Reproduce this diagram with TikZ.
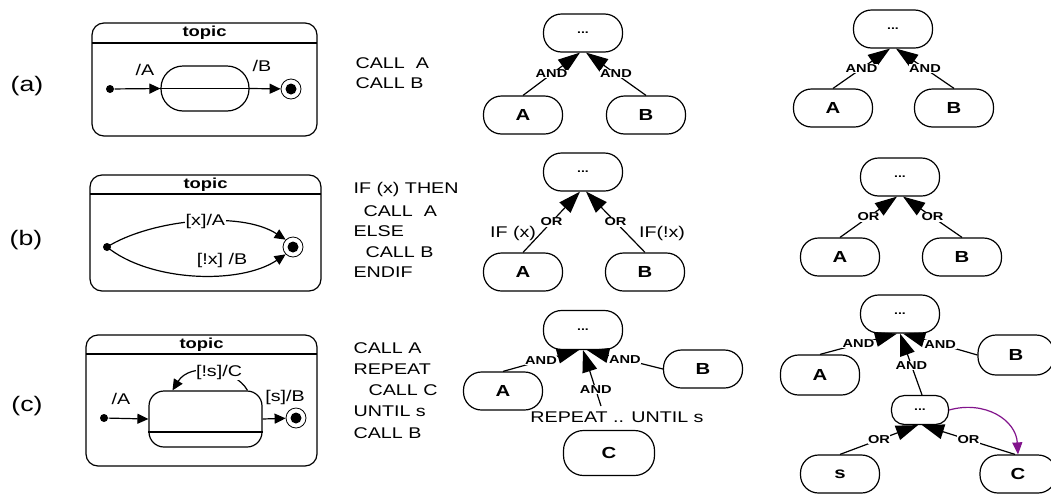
\documentclass[tikz,border=0pt]{standalone}
\usepackage{fontspec}
\setmainfont[FakeStretch=1.27]{Liberation Sans}
\usetikzlibrary{arrows.meta}
\definecolor{arcpurple}{RGB}{130,20,140}
\newcommand\fsReg{\fontsize{15.5}{18}\selectfont}
\newcommand\fsBig{\fontsize{21}{25}\selectfont}
\newcommand\fsTopic{\fontsize{14.5}{17}\selectfont\bfseries}
\newcommand\fsLab{\fontsize{11.5}{13}\selectfont\bfseries}
\newcommand\fsNode{\fontsize{16}{18}\selectfont\bfseries}
\newcommand\fsDots{\fontsize{11}{12}\selectfont\bfseries}
\begin{document}
\begin{tikzpicture}[x=1pt,y=-1pt, line width=1.2pt,
  every node/.style={inner sep=1pt},
  tnode/.style={draw, rectangle, rounded corners=18pt, minimum width=79pt, minimum height=38pt, inner sep=0pt, font=\fsNode},
  dnode/.style={tnode, font=\fsDots},
  elab/.style={fill=white, inner sep=0.5pt, font=\fsLab},
  tarrow/.style={-{Triangle[length=22pt,width=15pt]}},
  sarrow/.style={-{Triangle[length=11pt,width=10pt]}},
  parrow/.style={draw=arcpurple, -{Triangle[length=12pt,width=10pt]}, line width=1.2pt},
  idot/.style={circle, fill, inner sep=0pt, minimum size=8pt},
  fstate/.style={circle, draw, line width=0.8pt, inner sep=0pt, minimum size=20pt},
  topicbox/.style={draw, rounded corners=12pt, inner sep=0pt},
  code/.style={anchor=base west, font=\fsReg, inner sep=0pt},
  txt/.style={font=\fsReg},
  tlab/.style={fill=white, inner sep=0.5pt, font=\fsReg}]
\useasboundingbox (0,0) rectangle (1051,493);
\fill[white] (0,0) rectangle (1051,493);

% row labels
\node[font=\fsBig] (la) at (27,86) {(a)};
\node[font=\fsBig] (lb) at (26,240) {(b)};
\node[font=\fsBig] (lc) at (27,406) {(c)};

% ---------- (a) statechart ----------
\node[topicbox, minimum width=225pt, minimum height=113pt] (boxa) at (204.5,79.5) {};
\node[font=\fsTopic] (topa) at (204.5,33) {topic};
\draw (92,43) -- (317,43);
\node[draw, rounded corners=22pt, minimum width=88pt, minimum height=45pt] (sa) at (205,88.5) {};
\draw (sa.west) -- (sa.east);
\node[idot] (ia) at (110,89) {};
\node[fstate] (fa) at (291,89) {};
\fill (fa.center) circle (5.5);
\draw[sarrow] (ia) -- (sa.west);
\draw[sarrow] (sa.east) -- (fa);
\node[txt] (laA) at (145,70) {/A};
\node[txt] (laB) at (262,66) {/B};

% ---------- (b) statechart ----------
\node[topicbox, minimum width=231pt, minimum height=116pt] (boxb) at (205.5,233) {};
\node[font=\fsTopic] (topb) at (205.5,184.5) {topic};
\draw (90,194) -- (321,194);
\node[idot] (ib) at (107,247) {};
\node[fstate] (fb) at (293,247) {};
\fill (fb.center) circle (5.5);
\draw[sarrow] (ib.center) .. controls (150,220) and (240,210) .. (fb.north west)
  node[tlab, pos=0.55] (lbA) {[x]/A};
\draw[sarrow] (ib.center) .. controls (150,282) and (240,285) .. (fb.south west);
\node[txt] (lbB) at (222,260) {[!x] /B};

% ---------- (c) statechart ----------
\node[topicbox, minimum width=231pt, minimum height=131pt] (boxc) at (201.5,400.5) {};
\node[font=\fsTopic] (topc) at (201.5,344.5) {topic};
\draw (86,354) -- (317,354);
\node[draw, rounded corners=15pt, minimum width=113pt, minimum height=56pt] (sc) at (205.5,419) {};
\draw (sc.west |- 0,432) -- (sc.east |- 0,432);
\node[idot] (ic) at (104,418) {};
\node[fstate] (fc) at (296,418) {};
\fill (fc.center) circle (5.5);
\draw[sarrow] (ic) -- (sc.west);
\draw[sarrow] (sc.east) -- (fc);
\node[txt] (lcA) at (121,399) {/A};
\node[txt] (lcB) at (285,397) {[s]/B};
\draw[sarrow] ([xshift=42pt]sc.north) .. controls (235,368) and (190,362) .. ([xshift=-33pt]sc.north)
  node[tlab, pos=0.42] (lcC) {[!s]/C};

% ---------- code ----------
\node[code] (ca1) at (355,68) {CALL\ \ A};
\node[code] (ca2) at (355,88) {CALL B};
\node[code] (cb1) at (353,193) {IF (x) THEN};
\node[code] (cb2) at (363,216) {CALL\ \ A};
\node[code] (cb3) at (353,236) {ELSE};
\node[code] (cb4) at (365,257) {CALL B};
\node[code] (cb5) at (353,277) {ENDIF};
\node[code] (cc1) at (353,353) {CALL A};
\node[code] (cc2) at (353,374) {REPEAT};
\node[code] (cc3) at (368,395) {CALL C};
\node[code] (cc4) at (353,416) {UNTIL s};
\node[code] (cc5) at (353,438) {CALL B};

% ---------- trees (a) ----------
\node[dnode] (t1) at (583,33) {...};
\node[tnode] (a1) at (523,115) {A};
\node[tnode] (b1) at (646,115) {B};
\draw[tarrow] (a1.north) -- node[elab] {AND} ([xshift=-3pt]t1.south);
\draw[tarrow] (b1.north) -- node[elab] {AND} ([xshift=3pt]t1.south);

\node[dnode] (t2) at (893,29) {...};
\node[tnode] (a2) at (833,108) {A};
\node[tnode] (b2) at (954,108) {B};
\draw[tarrow] (a2.north) -- node[elab] {AND} ([xshift=-3pt]t2.south);
\draw[tarrow] (b2.north) -- node[elab] {AND} ([xshift=3pt]t2.south);

% ---------- trees (b) ----------
\node[dnode] (t3) at (583,172) {...};
\node[tnode] (a3) at (523,272) {A};
\node[tnode] (b3) at (645,272) {B};
\draw[tarrow] (a3.north) -- node[elab] {OR} ([xshift=-3pt]t3.south);
\draw[tarrow] (b3.north) -- node[elab] {OR} ([xshift=3pt]t3.south);
\node[txt] (ifx) at (513,233) {IF (x)};
\node[txt] (ifnx) at (662,233) {IF(!x)};

\node[dnode] (t4) at (900,177) {...};
\node[tnode] (a4) at (840,257) {A};
\node[tnode] (b4) at (962,257) {B};
\draw[tarrow] (a4.north) -- node[elab] {OR} ([xshift=-3pt]t4.south);
\draw[tarrow] (b4.north) -- node[elab] {OR} ([xshift=3pt]t4.south);

% ---------- trees (c) ----------
\node[dnode, minimum height=39pt] (t5) at (583,330) {...};
\node[tnode] (a5) at (503,391) {A};
\node[tnode] (b5) at (703,369) {B};
\node[tnode, minimum width=91pt, minimum height=45pt, rounded corners=20pt] (c5) at (609,453) {C};
\node[txt] (rep) at (617,417) {REPEAT .. UNTIL s};
\coordinate (rs) at (601,406);
\draw[tarrow] (a5.north) -- node[elab] {AND} ([xshift=-4pt]t5.south);
\draw[tarrow] (b5.west) -- node[elab] {AND} ([xshift=4pt]t5.south);
\draw[tarrow] (rs) -- node[elab, pos=0.29] {AND} (t5.south);

\node[dnode] (t6) at (900,314) {...};
\node[tnode, minimum height=40pt] (a6) at (820,375) {A};
\node[tnode, minimum width=76pt, minimum height=40pt] (b6) at (1016,355) {B};
\node[dnode, minimum width=57pt, minimum height=29pt, rounded corners=13pt] (sub) at (920,410) {...};
\node[tnode] (s6) at (840,474) {s};
\node[tnode, minimum width=76pt] (c6) at (1018,474) {C};
\draw[tarrow] (a6.north) -- node[elab] {AND} ([xshift=-3pt]t6.south);
\draw[tarrow] (b6.west) -- node[elab] {AND} ([xshift=3pt]t6.south);
\draw[tarrow] ([xshift=2pt]sub.north) -- node[elab, pos=0.48] {AND} (t6.south);
\draw[tarrow] (s6.north) -- node[elab] {OR} ([xshift=-2pt]sub.south);
\draw[tarrow] ([xshift=-3pt]c6.north) -- node[elab] {OR} ([xshift=2pt]sub.south);
\draw[parrow] (sub.east) .. controls (985,400) and (1016,420) .. (c6.north);
\end{tikzpicture}
\end{document}
